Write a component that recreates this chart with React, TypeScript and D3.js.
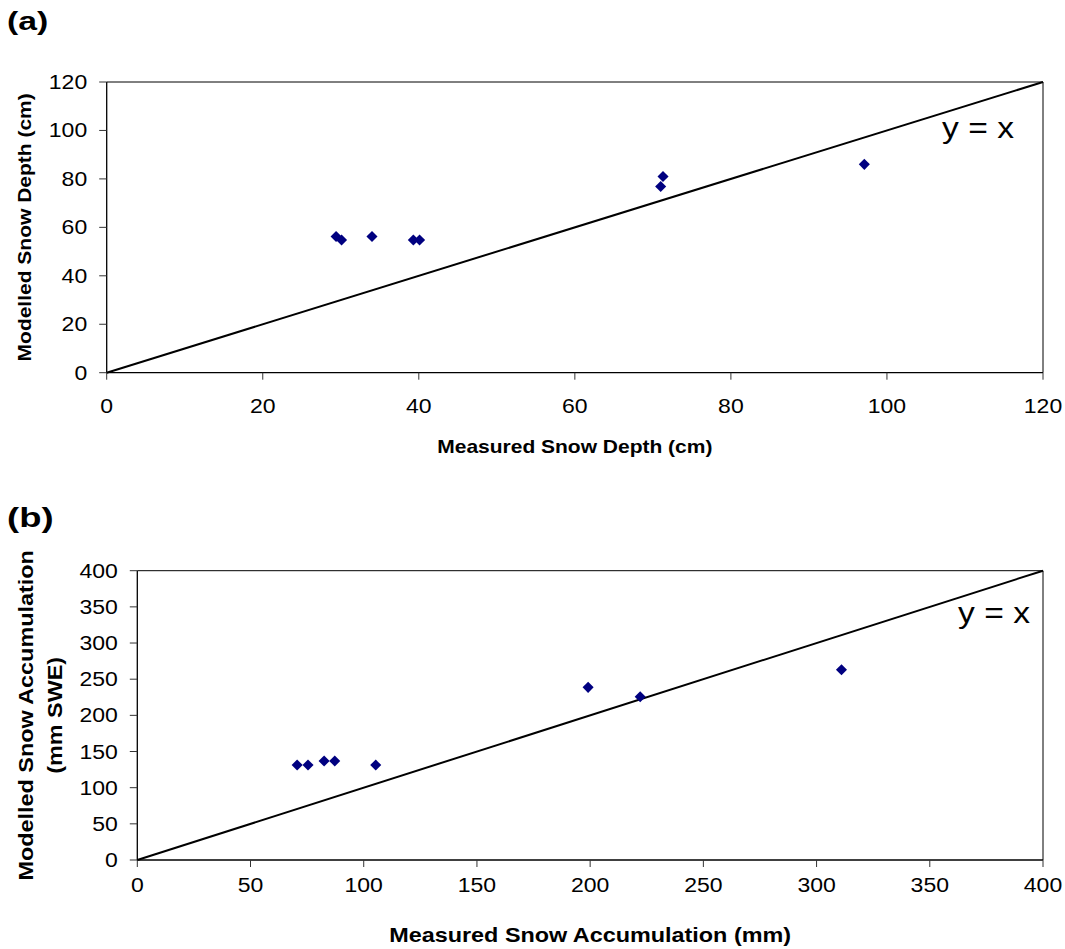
import React from "react";
import * as d3 from "d3";

const depthMeasured = [29.4, 30.1, 34.0, 39.3, 40.1, 71.3, 71.0, 97.1];
const depthModelled = [56.2, 54.8, 56.2, 54.8, 54.8, 81.0, 76.9, 86.0];
const depthTicks = [0, 20, 40, 60, 80, 100, 120];

const accMeasured = [70.6, 75.4, 82.5, 87.2, 105.3, 199.1, 222.1, 311.0];
const accModelled = [131.3, 131.3, 136.9, 136.9, 131.3, 238.7, 225.8, 263.1];
const accTicks = [0, 50, 100, 150, 200, 250, 300, 350, 400];

const FONT = "Liberation Sans, Arial, sans-serif";
const SX = 1.2;

type TProps = {
  x: number;
  y: number;
  size: number;
  sx?: number;
  anchor?: string;
  bold?: boolean;
  rotate?: number;
  dy?: string;
  children: React.ReactNode;
};

function T({ x, y, size, sx = SX, anchor = "start", bold, rotate = 0, dy, children }: TProps) {
  return (
    <text
      transform={`translate(${x},${y}) rotate(${rotate}) scale(${sx},1)`}
      textAnchor={anchor}
      fontSize={size}
      fontWeight={bold ? "bold" : "normal"}
      dy={dy}
    >
      {children}
    </text>
  );
}

type PanelProps = {
  label: string;
  labelY: number;
  labelSize: number;
  xs: number[];
  ys: number[];
  ticks: number[];
  left: number;
  right: number;
  top: number;
  bottom: number;
  xTickDy: number;
  titleFont: number;
  xTitle: string;
  xTitleY: number;
  yTitleLines: string[];
  yTitleXs: number[];
  eqBaseline: number;
  eqRight: number;
};

function Panel(p: PanelProps) {
  const max = p.ticks[p.ticks.length - 1];
  const x = d3.scaleLinear().domain([0, max]).range([p.left, p.right]);
  const y = d3.scaleLinear().domain([0, max]).range([p.bottom, p.top]);
  const diamond = d3.symbol().type(d3.symbolDiamond2).size(78)();
  const line = d3.line<number>().x((d) => x(d)).y((d) => y(d));
  const yMid = (p.top + p.bottom) / 2;
  const xMid = (p.left + p.right) / 2;
  return (
    <g fontFamily={FONT} fill="#000">
      <T x={7} y={p.labelY} size={p.labelSize} sx={1.35} bold>{p.label}</T>
      <line x1={p.left} x2={p.right} y1={p.top} y2={p.top} stroke="#000" strokeWidth={1} />
      <line x1={p.right} x2={p.right} y1={p.top} y2={p.bottom} stroke="#000" strokeWidth={1} />
      <line x1={p.left} x2={p.right} y1={p.bottom} y2={p.bottom} stroke="#000" strokeWidth={1.3} />
      <line x1={p.left} x2={p.left} y1={p.top} y2={p.bottom} stroke="#000" strokeWidth={1.3} />
      {p.ticks.map((t) => (
        <g key={"x" + t}>
          <line x1={x(t)} x2={x(t)} y1={p.bottom} y2={p.bottom + 7} stroke="#333" />
          <T x={x(t)} y={p.bottom + p.xTickDy} anchor="middle" size={19.5} sx={1.18}>{t}</T>
        </g>
      ))}
      {p.ticks.map((t) => (
        <g key={"y" + t}>
          <line x1={p.left - 7.5} x2={p.left} y1={y(t)} y2={y(t)} stroke="#333" />
          <T x={p.left - 19.5} y={y(t)} dy="0.36em" anchor="end" size={19.5} sx={1.18}>{t}</T>
        </g>
      ))}
      <path d={line([0, max]) || ""} stroke="#000" strokeWidth={2} fill="none" />
      {p.xs.map((v, i) => (
        <path key={i} d={diamond || ""} transform={`translate(${x(v)},${y(p.ys[i])})`} fill="#000080" />
      ))}
      <T x={p.eqRight} y={p.eqBaseline} anchor="end" size={30} sx={1.12}>y = x</T>
      <T x={xMid} y={p.xTitleY} anchor="middle" size={p.titleFont} bold>{p.xTitle}</T>
      {p.yTitleLines.map((s, i) => (
        <T key={i} x={p.yTitleXs[i]} y={yMid} rotate={-90} anchor="middle" dy="0.35em" size={p.titleFont} bold>{s}</T>
      ))}
    </g>
  );
}

export default function App() {
  return (
    <svg width={1065} height={949} style={{ position: "absolute", left: 0, top: 0, background: "#fff" }}>
      <rect width={1065} height={949} fill="#fff" />
      <Panel
        label="(a)" labelY={30} labelSize={25}
        xs={depthMeasured} ys={depthModelled} ticks={depthTicks}
        left={106.7} right={1043} top={82} bottom={372.7}
        xTickDy={40}
        titleFont={17.5}
        xTitle="Measured Snow Depth (cm)" xTitleY={453}
        yTitleLines={["Modelled Snow Depth (cm)"]} yTitleXs={[25]}
        eqBaseline={138} eqRight={1014}
      />
      <Panel
        label="(b)" labelY={526.5} labelSize={27}
        xs={accMeasured} ys={accModelled} ticks={accTicks}
        left={137.3} right={1043} top={570.7} bottom={860}
        xTickDy={31.7}
        titleFont={19.5}
        xTitle="Measured Snow Accumulation (mm)" xTitleY={942}
        yTitleLines={["Modelled Snow Accumulation", "(mm SWE)"]} yTitleXs={[26, 55]}
        eqBaseline={623} eqRight={1030}
      />
    </svg>
  );
}
